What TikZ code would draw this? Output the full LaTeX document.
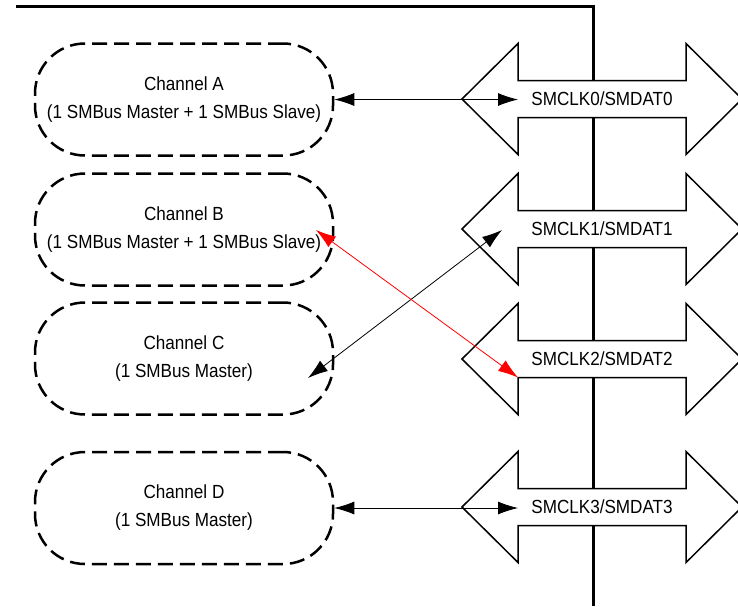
\documentclass[tikz,border=0pt]{standalone}
\usepackage{fontspec}
\setmainfont{Liberation Sans}[FakeStretch=0.9]
\usetikzlibrary{arrows.meta}
\tikzset{
  chan/.style={draw, line width=2.5pt, dash pattern=on 15pt off 7pt, rounded corners=50pt,
    minimum width=298pt, minimum height=112pt, align=center, inner sep=0pt,
    font=\fontsize{19}{28}\selectfont},
  busarrow/.style={draw, fill=white, line width=1.5pt, line join=miter},
  buslabel/.style={font=\fontsize{19}{22}\selectfont, inner sep=0pt},
  conn/.style={line width=0.8pt, {Latex[length=20pt,width=13pt]}-{Latex[length=20pt,width=13pt]}},
  frame/.style={line width=3pt}
}
\newcommand{\busshape}[1]{%
  \path[busarrow] (462,#1) -- (518,#1-55.5) -- (518,#1-18.5) -- (686,#1-18.5) -- (686,#1-55.5)
    -- (742,#1) -- (686,#1+55.5) -- (686,#1+18.5) -- (518,#1+18.5) -- (518,#1+55.5) -- cycle;}
\begin{document}
\begin{tikzpicture}[x=1pt,y=-1pt]
\useasboundingbox (0,0) rectangle (738,606);
% frame lines
\coordinate (f0) at (16,6);
\coordinate (f1) at (593,6);
\coordinate (f2) at (593,606);
\draw[frame] (f0) -- (f1) -- (f2);
% bus arrows
\busshape{99}
\busshape{229}
\busshape{359}
\busshape{507}
\node[buslabel] (s0) at (602,99) {SMCLK0/SMDAT0};
\node[buslabel] (s1) at (602,229) {SMCLK1/SMDAT1};
\node[buslabel] (s2) at (602,359) {SMCLK2/SMDAT2};
\node[buslabel] (s3) at (602,507) {SMCLK3/SMDAT3};
% channels
\node[chan] (chA) at (184,99.5) {Channel A\\(1 SMBus Master + 1 SMBus Slave)};
\node[chan] (chB) at (184,229.5) {Channel B\\(1 SMBus Master + 1 SMBus Slave)};
\node[chan] (chC) at (184,358.5) {Channel C\\(1 SMBus Master)};
\node[chan] (chD) at (184,508) {Channel D\\(1 SMBus Master)};
% connector end points
\coordinate (p0) at (518,99.5);
\coordinate (p1) at (502,230);
\coordinate (p2) at (518,377.5);
\coordinate (p3) at (518,508);
\coordinate (cB) at (316,230);
\coordinate (cC) at (308,378);
% connectors
\draw[conn] (chA.east) -- (p0);
\draw[conn] (chD.east) -- (p3);
\draw[conn] (cC) -- (p1);
\draw[conn, red] (cB) -- (p2);
\end{tikzpicture}
\end{document}
